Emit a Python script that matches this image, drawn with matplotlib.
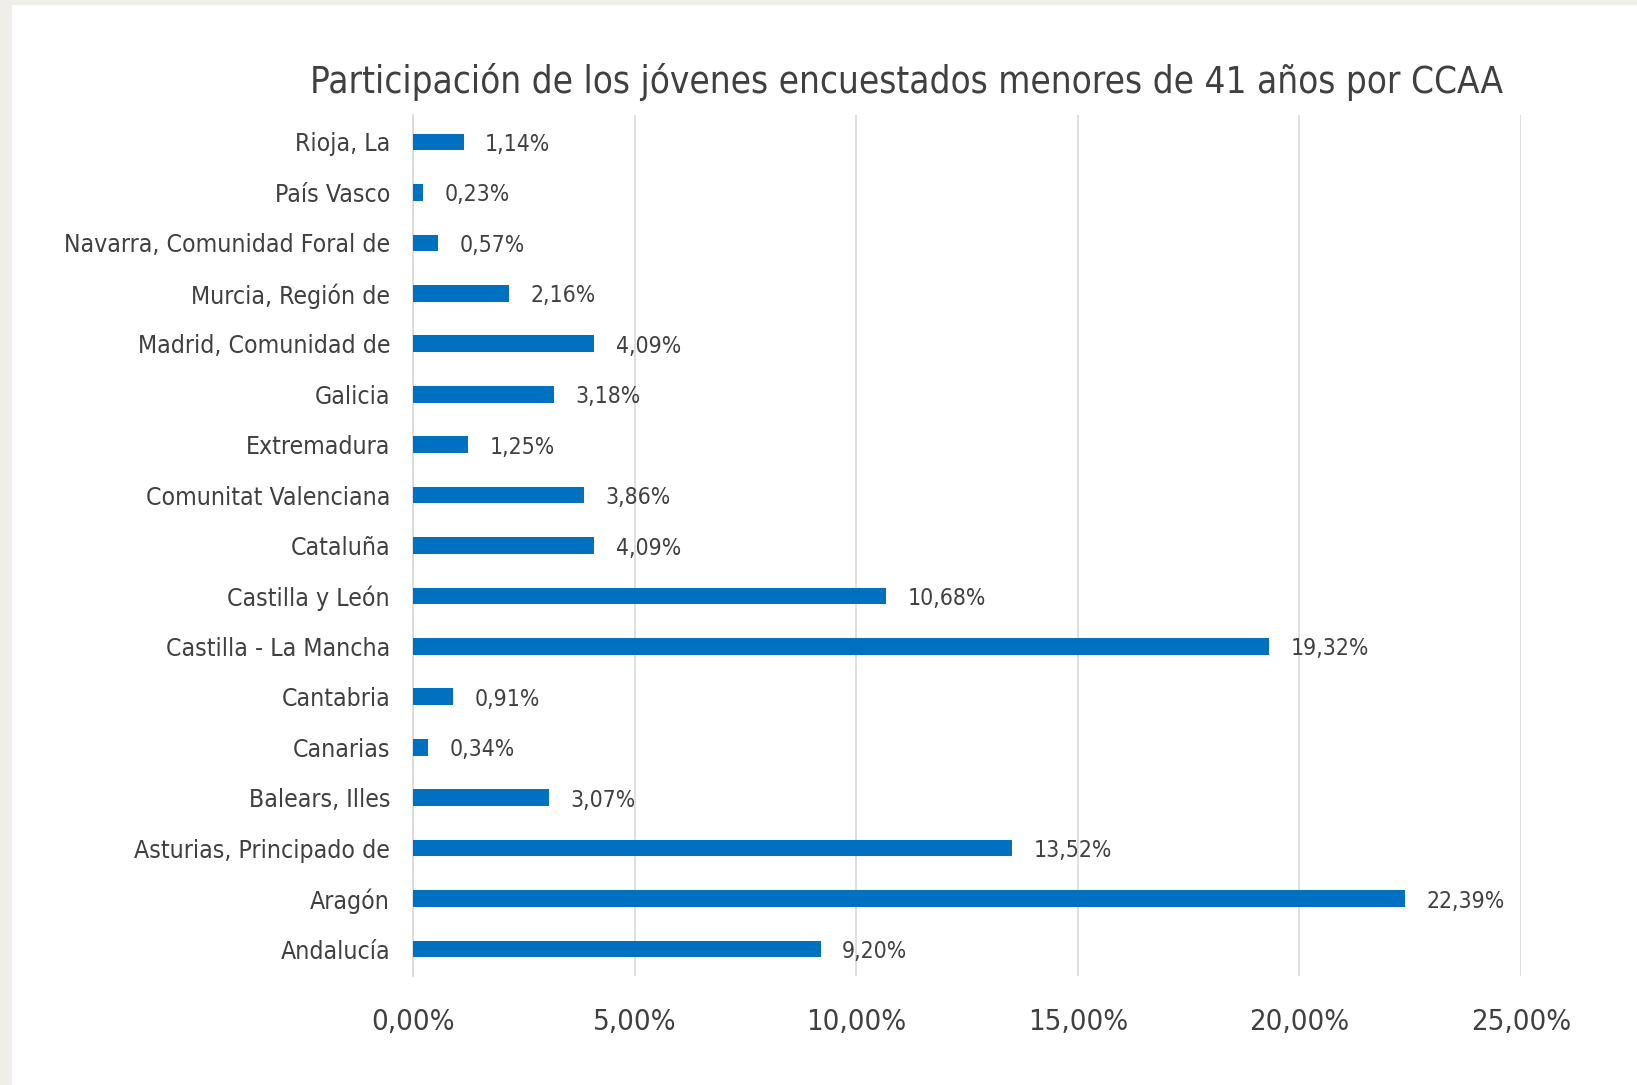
import matplotlib.pyplot as plt

# Data (bottom to top as drawn)
regiones = ['Andalucía', 'Aragón', 'Asturias, Principado de', 'Balears, Illes',
            'Canarias', 'Cantabria', 'Castilla - La Mancha', 'Castilla y León',
            'Cataluña', 'Comunitat Valenciana', 'Extremadura', 'Galicia',
            'Madrid, Comunidad de', 'Murcia, Región de', 'Navarra, Comunidad Foral de',
            'País Vasco', 'Rioja, La']
valores = [9.20, 22.39, 13.52, 3.07, 0.34, 0.91, 19.32, 10.68,
           4.09, 3.86, 1.25, 3.18, 4.09, 2.16, 0.57, 0.23, 1.14]
xticks = [0, 5, 10, 15, 20, 25]

plt.rcParams['font.family'] = ['DejaVu Sans']
plt.rcParams['font.stretch'] = 'condensed'

txt = '#404040'
fig = plt.figure(figsize=(16.37, 10.85), dpi=100)
fig.patch.set_facecolor('#efeeea')
# white panel
fig.add_artist(plt.Rectangle((12 / 1637, 0), 1, 1 - 5 / 1085, transform=fig.transFigure,
                             facecolor='white', edgecolor='none', zorder=0))

ax = fig.add_axes([413 / 1637, 1 - 976 / 1085, (1521 - 413) / 1637, (976 - 115) / 1085])
ax.set_facecolor('none')
y = range(len(regiones))
ax.barh(y, valores, height=0.33, color='#0070C0', zorder=3)
for i, v in enumerate(valores):
    ax.text(v + 0.48, i - 0.05, f'{v:.2f}%'.replace('.', ','), va='center', ha='left',
            fontsize=16.5, color=txt)

ax.set_xlim(0, 25)
ax.set_ylim(-0.535, len(regiones) - 0.465)
ax.set_xticks(xticks)
ax.set_xticklabels([f'{t:.2f}%'.replace('.', ',') for t in xticks], fontsize=21, color=txt)
ax.set_yticks(list(y))
ax.set_yticklabels(regiones, fontsize=17.8, color=txt)
ax.tick_params(axis='both', length=0)
ax.tick_params(axis='x', pad=23)
ax.tick_params(axis='y', pad=16.5)
ax.grid(axis='x', color='#d9d9d9', linewidth=1.2, zorder=0)
for s in ['top', 'right', 'bottom']:
    ax.spines[s].set_visible(False)
ax.spines['left'].set_color('#d9d9d9')
ax.spines['left'].set_linewidth(1.2)

fig.text(906 / 1637, 1 - 82 / 1085, 'Participación de los jóvenes encuestados menores de 41 años por CCAA',
         ha='center', va='center', fontsize=26.4, color=txt)

fig.savefig('out.png', dpi=100, facecolor=fig.get_facecolor())
